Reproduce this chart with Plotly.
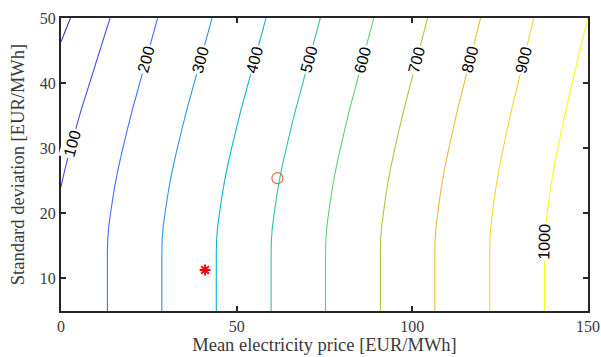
import numpy as np
import plotly.graph_objects as go

# Contour levels and where each level sits on the mean-price axis at low volatility
levels = [-100, 0, 100, 200, 300, 400, 500, 600, 700, 800, 900, 1000, 1100]
base_mu = [-33.4, -17.9, -2.35, 13.2, 28.7, 44.2, 59.8, 75.3, 90.9, 106.4, 122.0, 137.6, 153.1]
# Rightward drift of the iso-lines as the standard deviation grows
sigma_knots = [5, 14, 16, 18, 20, 22, 24, 26, 28, 30, 33, 36, 40, 45, 50]
drift_knots = [0, 0, 0.1, 0.4, 0.9, 1.45, 2.05, 2.75, 3.55, 4.4, 5.75, 7.15, 9.2, 11.75, 14.3]
# Strength of that drift for each level
drift_gain = [1.6, 1.44, 1.14, 1.0, 1.0, 0.99, 0.98, 0.96, 0.94, 0.91, 0.88, 0.86, 0.84]

# Contour labels: level and the standard deviation where its label sits
label_levels = [100, 200, 300, 400, 500, 600, 700, 800, 900, 1000]
label_sigma = [30.8, 43.6, 43.6, 43.6, 43.6, 43.6, 43.6, 43.6, 43.6, 15.6]

# Highlighted operating points
star_mu, star_sigma = [41.0], [11.3]
circle_mu, circle_sigma = [61.6], [25.4]

# Parula colour map
parula = [
    (0.2422, 0.1504, 0.6603), (0.2803, 0.2782, 0.9221), (0.2440, 0.4358, 0.9988),
    (0.1540, 0.5902, 0.9218), (0.0297, 0.7082, 0.8163), (0.1717, 0.7670, 0.6554),
    (0.3909, 0.8029, 0.4354), (0.6720, 0.7793, 0.2227), (0.9393, 0.7288, 0.2100),
    (0.9786, 0.8386, 0.1766), (0.9769, 0.9839, 0.0805),
]
colorscale = [[i / (len(parula) - 1), "rgb(%d,%d,%d)" % tuple(int(round(c * 255)) for c in p)]
              for i, p in enumerate(parula)]

levels_a = np.array(levels, float)
base_a = np.array(base_mu)
gain_a = np.array(drift_gain)


def level_positions(sig):
    d = np.interp(sig, sigma_knots, drift_knots)
    return base_a + d * gain_a


mu = np.linspace(0, 150, 601)
sigma = np.linspace(5, 50, 451)
z = np.array([np.interp(mu, level_positions(s), levels_a) for s in sigma])

fig = go.Figure()
fig.add_trace(go.Contour(
    x=mu, y=sigma, z=z,
    colorscale=colorscale, zmin=0, zmax=1000, showscale=False,
    contours=dict(start=0, end=1000, size=100, coloring="lines", showlabels=False),
    line=dict(width=1.1, smoothing=1.3), hoverinfo="skip",
))
fig.add_trace(go.Scatter(
    x=circle_mu, y=circle_sigma, mode="markers",
    marker=dict(symbol="circle-open", size=11, color="#e0663a", line=dict(width=1.1)),
    showlegend=False,
))
fig.add_trace(go.Scatter(
    x=star_mu, y=star_sigma, mode="markers",
    marker=dict(symbol="asterisk-open", size=9, color="red", line=dict(width=2, color="red")),
    showlegend=False,
))

# Inline contour labels, rotated along each line
px_per_mu = 527 / 150.0
px_per_sigma = 293.5 / 45.0
for lev, s in zip(label_levels, label_sigma):
    i = levels.index(lev)
    m = level_positions(s)[i]
    ds = 0.5
    dm = level_positions(s + ds)[i] - level_positions(s - ds)[i]
    ang = np.degrees(np.arctan2(2 * ds * px_per_sigma, dm * px_per_mu))
    fig.add_annotation(
        x=m, y=s, text=str(lev), showarrow=False, textangle=-ang,
        font=dict(family="Liberation Sans, Arial, sans-serif", size=16, color="black"),
        bgcolor="white", borderpad=1,
    )

axis_common = dict(
    showline=True, linecolor="#262626", linewidth=2, mirror="ticks",
    ticks="inside", ticklen=5, tickwidth=1.5, tickcolor="#262626",
    showgrid=False, zeroline=False, automargin=False,
    tickfont=dict(family="Liberation Serif, serif", size=16, color="#3a3a3a"),
)
title_font = dict(family="Liberation Serif, serif", size=18.5, color="#3a3a3a")
fig.update_xaxes(range=[0, 150], tickvals=[0, 50, 100, 150],
                 title=dict(text="Mean electricity price [EUR/MWh]", standoff=4, font=title_font),
                 **axis_common)
fig.update_yaxes(range=[5, 50], tickvals=[10, 20, 30, 40, 50],
                 title=dict(text="Standard deviation [EUR/MWh]", standoff=10, font=title_font),
                 **axis_common)

fig.update_layout(
    width=601, height=357,
    margin=dict(l=61, r=13, t=18, b=45.5),
    paper_bgcolor="white", plot_bgcolor="white",
    showlegend=False,
)
fig.write_html("out.html")
